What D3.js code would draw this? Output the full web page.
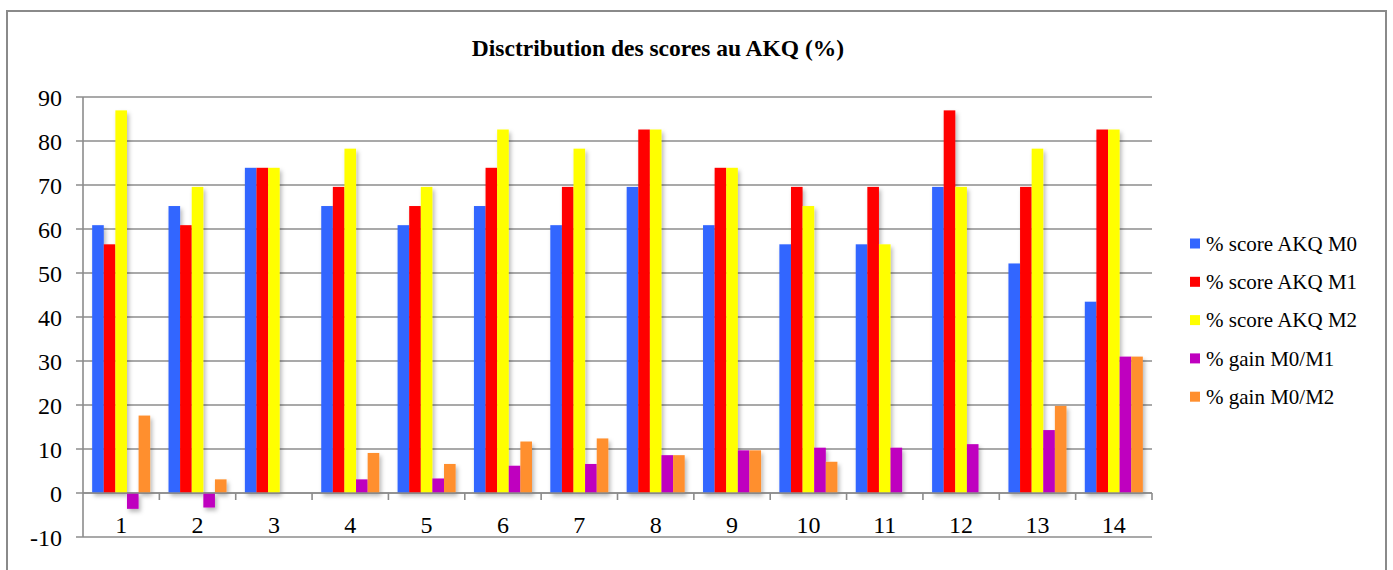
<!DOCTYPE html>
<html><head><meta charset="utf-8">
<script src="https://cdn.jsdelivr.net/npm/d3@7"></script>
<style>
html,body{margin:0;padding:0;background:#fff;}
svg text{font-family:"Liberation Serif","Times New Roman",serif;fill:#000;}
</style></head><body>
<svg id="c" width="1393" height="570"></svg>
<script>
const categories = ["1","2","3","4","5","6","7","8","9","10","11","12","13","14"];
const seriesNames = ["% score AKQ M0","% score AKQ M1","% score AKQ M2","% gain M0/M1","% gain M0/M2"];
const scoreM0 = [60.87,65.22,73.91,65.22,60.87,65.22,60.87,69.57,60.87,56.52,56.52,69.57,52.17,43.48];
const scoreM1 = [56.52,60.87,73.91,69.57,65.22,73.91,69.57,82.61,73.91,69.57,69.57,86.96,69.57,82.61];
const scoreM2 = [86.96,69.57,73.91,78.26,69.57,82.61,78.26,82.61,73.91,65.22,56.52,69.57,78.26,82.61];
const gainM1 = [-3.6,-3.3,0,3.1,3.3,6.2,6.6,8.6,9.7,10.3,10.3,11.1,14.3,31.0];
const gainM2 = [17.6,3.1,0,9.1,6.6,11.7,12.4,8.6,9.7,7.1,0,0,19.8,31.0];
const colors = ["#3366ff","#ff0000","#ffff00","#bf00bf","#ff8f2e"];
const yTicks = [-10,0,10,20,30,40,50,60,70,80,90];
const title = "Disctribution des scores au AKQ (%)";

const seriesValues = [scoreM0, scoreM1, scoreM2, gainM1, gainM2];
const svg = d3.select("#c");

// outer border
svg.append("rect").attr("x",7).attr("y",11).attr("width",1379).attr("height",580)
  .attr("fill","none").attr("stroke","#8a8a8a").attr("stroke-width",2);

svg.append("text").attr("x",658).attr("y",56).attr("text-anchor","middle")
  .attr("font-weight","bold").attr("font-size",23.5).text(title);

const pL = 83, pR = 1152, pT = 97, pB = 537;
const y = d3.scaleLinear().domain([-10,90]).range([pB, pT]);
const x = d3.scaleBand().domain(categories).range([pL,pR]).paddingInner(0.24).paddingOuter(0.12);
const xs = d3.scaleBand().domain(d3.range(5)).range([0, x.bandwidth()]);

const defs = svg.append("defs");
const f = defs.append("filter").attr("id","sh").attr("x","-50%").attr("y","-20%").attr("width","200%").attr("height","140%");
f.append("feDropShadow").attr("dx",2).attr("dy",3).attr("stdDeviation",2).attr("flood-color","#000").attr("flood-opacity",0.28);

// gridlines
svg.append("g").selectAll("line").data(yTicks).join("line")
  .attr("x1",pL-7).attr("x2",pR).attr("y1",d=>y(d)).attr("y2",d=>y(d))
  .attr("stroke","#8c8c8c").attr("stroke-width",1.6);
// y labels
svg.append("g").selectAll("text").data(yTicks).join("text")
  .attr("x",62).attr("y",d=>y(d)).attr("dy","0.36em").attr("text-anchor","end")
  .attr("font-size",24).text(d=>d);
// y axis line
svg.append("line").attr("x1",pL).attr("x2",pL).attr("y1",pT).attr("y2",pB)
  .attr("stroke","#8c8c8c").attr("stroke-width",1.6);

// bars
const g = svg.append("g").attr("filter","url(#sh)");
seriesValues.forEach((vals,si)=>{
  g.append("g").selectAll("rect").data(vals).join("rect")
    .attr("x",(d,i)=>x(categories[i])+xs(si))
    .attr("width",xs.bandwidth())
    .attr("y",d=>y(Math.max(0,d)))
    .attr("height",d=>Math.abs(y(d)-y(0)))
    .attr("fill",colors[si]);
});

// x axis at 0
svg.append("line").attr("x1",pL).attr("x2",pR).attr("y1",y(0)).attr("y2",y(0))
  .attr("stroke","#8c8c8c").attr("stroke-width",1.6);
const step = x.step();
svg.append("g").selectAll("line").data(d3.range(1,categories.length+1)).join("line")
  .attr("x1",k=>pL+k*step).attr("x2",k=>pL+k*step)
  .attr("y1",y(0)).attr("y2",y(0)+7).attr("stroke","#8c8c8c").attr("stroke-width",1.6);
svg.append("g").selectAll("text").data(categories).join("text")
  .attr("x",d=>x(d)+x.bandwidth()/2).attr("y",533).attr("text-anchor","middle")
  .attr("font-size",24).text(d=>d);

// legend
const lg = svg.append("g");
seriesNames.forEach((n,i)=>{
  const cy = 243.5 + i*38.3;
  lg.append("rect").attr("x",1190).attr("y",cy-5).attr("width",10).attr("height",10).attr("fill",colors[i]);
  lg.append("text").attr("x",1206).attr("y",cy).attr("dy","0.35em").attr("font-size",21).text(n);
});
</script></body></html>
